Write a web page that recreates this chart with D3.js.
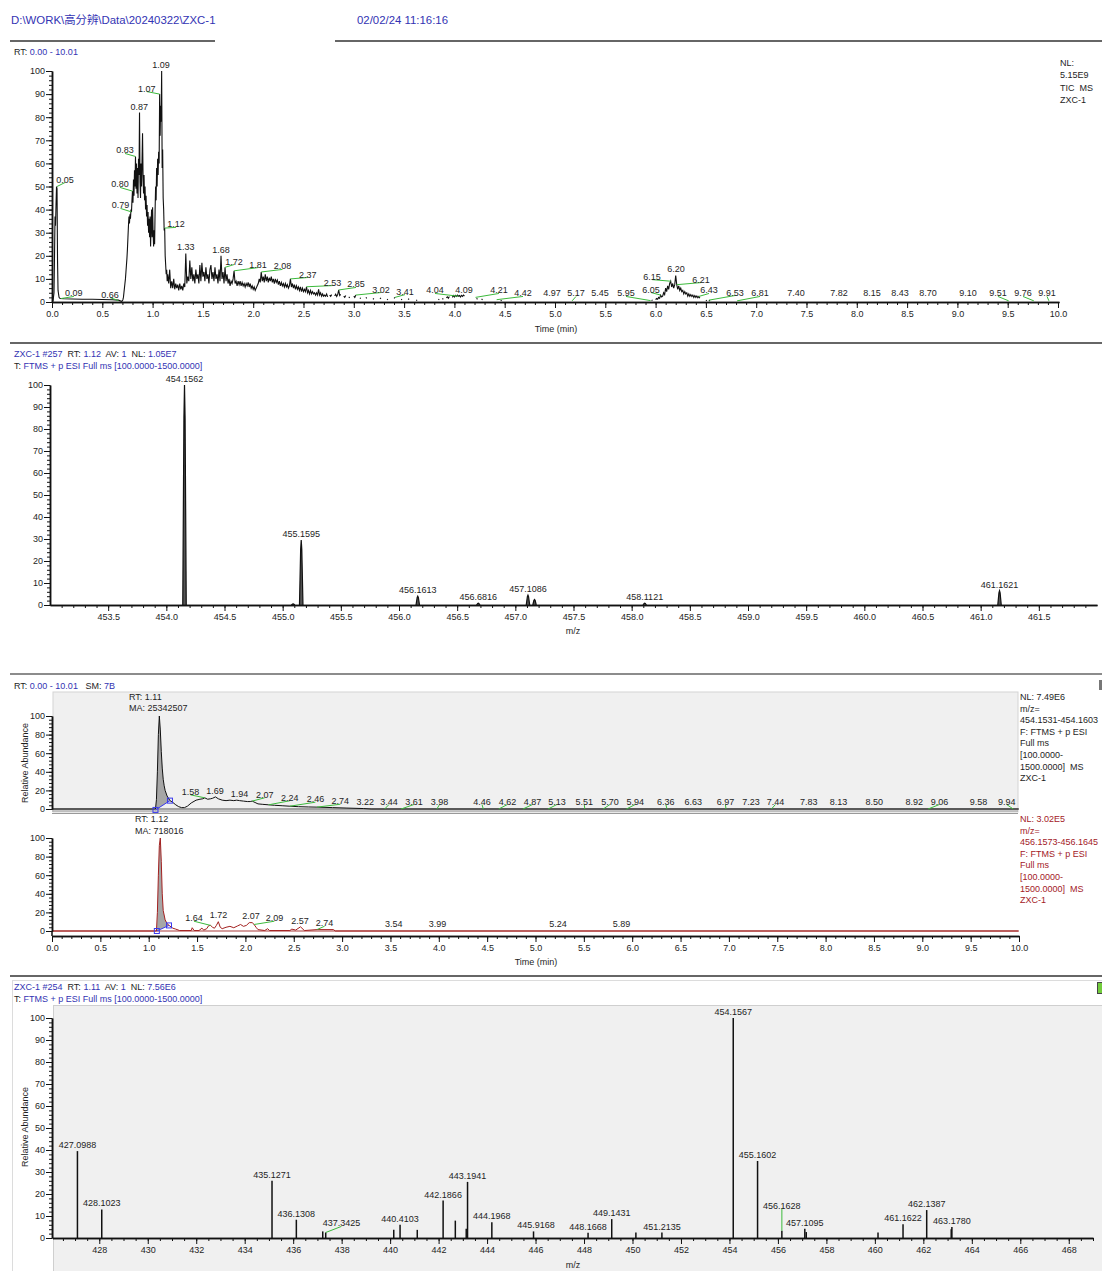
<!DOCTYPE html>
<html lang="en">
<head>
<meta charset="UTF-8">
<title>ZXC-1</title>
<style>
  body { margin: 0; background: #fff; }
  text { white-space: pre; }
</style>
</head>
<body>
<script src="https://cdn.jsdelivr.net/npm/d3@7"></script>
<script>
const FONT = '"Liberation Sans", Arial, "Noto Sans CJK SC", sans-serif';
const BLUE = '#3333b3';
const INK = '#1e1e1e';
const GREEN = '#3cba3c';
const RED = '#a3201f';

// ---------- header ----------
const filePath = 'D:\\WORK\\高分辨\\Data\\20240322\\ZXC-1';
const stamp = '02/02/24 11:16:16';

// ---------- panel 1 : TIC ----------
const ticRange = ['RT:', ' 0.00 - 10.01'];
const ticInfo = ['NL:', '5.15E9', 'TIC  MS', 'ZXC-1'];
const ticTimeTicks = [0, 0.5, 1, 1.5, 2, 2.5, 3, 3.5, 4, 4.5, 5, 5.5, 6, 6.5, 7, 7.5, 8, 8.5, 9, 9.5, 10];
const pct10Ticks = [0, 10, 20, 30, 40, 50, 60, 70, 80, 90, 100];
// [time, relative abundance]; null = gap in the trace
const ticTrace = [
  [0.00, 0], [0.01, 0.5], [0.02, 4], [0.025, 20], [0.03, 37], [0.035, 33], [0.04, 42], [0.045, 50], [0.05, 49],
  [0.055, 18], [0.06, 5], [0.07, 2], [0.08, 1.5], [0.12, 1.4], [0.20, 1.3], [0.30, 1.2], [0.40, 1.2], [0.50, 1.1],
  [0.60, 1.0], [0.66, 0.8], [0.69, 0.3], [0.70, 0.5], [0.705, 1], [0.71, 2], [0.715, 4], [0.72, 6], [0.725, 8],
  [0.73, 10], [0.735, 13], [0.74, 16], [0.745, 19], [0.75, 23], [0.755, 28], [0.76, 33], [0.765, 37], [0.77, 34],
  [0.775, 38], [0.78, 36], [0.785, 40], [0.79, 39], [0.795, 44], [0.80, 48], [0.805, 43], [0.81, 53], [0.815, 46],
  [0.82, 57], [0.825, 50], [0.83, 63], [0.835, 49], [0.84, 60], [0.845, 47], [0.85, 58], [0.855, 45], [0.86, 62],
  [0.865, 55], [0.87, 82], [0.875, 52], [0.88, 45], [0.885, 60], [0.89, 50], [0.895, 61], [0.90, 73], [0.905, 55],
  [0.91, 47], [0.915, 55], [0.92, 44], [0.925, 50], [0.93, 40], [0.935, 46], [0.94, 37], [0.945, 42], [0.95, 33],
  [0.955, 39], [0.96, 30], [0.965, 36], [0.97, 28], [0.975, 37], [0.98, 24], [0.985, 33], [0.99, 40], [0.995, 28],
  [1.00, 41], [1.005, 30], [1.01, 24], [1.015, 31], [1.02, 25], [1.025, 40], [1.03, 50], [1.035, 44], [1.04, 58],
  [1.045, 50], [1.05, 62], [1.055, 55], [1.06, 65], [1.065, 60], [1.07, 90], [1.075, 72], [1.08, 85], [1.085, 78],
  [1.09, 100], [1.095, 58], [1.10, 66], [1.105, 45], [1.11, 40], [1.115, 31], [1.12, 32], [1.125, 20], [1.13, 16],
  [1.135, 12], [1.14, 14], [1.145, 9],
  [1.15, 12], [1.16, 8], [1.17, 14], [1.18, 6], [1.19, 9], [1.20, 6], [1.21, 10], [1.22, 5.5], [1.23, 8], [1.24, 6],
  [1.25, 7.5], [1.26, 5], [1.27, 8], [1.28, 5.5], [1.29, 7], [1.30, 5], [1.31, 8], [1.32, 6.5], [1.33, 21], [1.34, 8],
  [1.35, 11], [1.36, 9], [1.37, 18], [1.38, 10], [1.39, 15], [1.40, 9], [1.41, 12], [1.42, 8], [1.43, 14], [1.44, 10],
  [1.45, 12], [1.46, 8], [1.47, 16], [1.48, 9], [1.49, 17], [1.50, 11], [1.51, 13], [1.52, 9], [1.53, 15], [1.54, 10],
  [1.55, 12], [1.56, 8], [1.57, 14], [1.58, 16], [1.59, 10], [1.60, 13], [1.61, 9], [1.62, 15], [1.63, 10], [1.64, 12],
  [1.65, 8], [1.66, 14], [1.67, 9], [1.68, 20], [1.69, 10], [1.70, 13], [1.71, 8], [1.72, 15], [1.73, 9], [1.74, 12],
  [1.75, 8], [1.76, 10], [1.77, 7], [1.78, 9], [1.79, 8], [1.80, 10], [1.81, 13.5], [1.82, 8], [1.83, 9], [1.84, 7],
  [1.85, 9], [1.86, 7.5], [1.87, 9], [1.88, 7], [1.89, 8.5], [1.90, 7], [1.91, 8], [1.92, 6.5], [1.93, 8], [1.94, 7],
  [1.95, 8.5], [1.96, 6.5], [1.97, 8], [1.98, 6], [1.99, 7], [2.00, 5.5], [2.01, 6.5], [2.02, 5], [2.03, 6], [2.04, 7],
  [2.05, 8], [2.06, 10], [2.07, 8.5], [2.08, 13], [2.09, 9], [2.10, 11], [2.11, 8.5], [2.12, 12], [2.13, 9], [2.14, 11],
  [2.15, 8.5], [2.16, 10.5], [2.17, 9], [2.18, 11], [2.19, 8.5], [2.20, 10], [2.21, 8], [2.22, 10], [2.23, 8.5], [2.24, 9.5],
  [2.25, 7.5], [2.26, 9], [2.27, 7], [2.28, 8.5], [2.29, 7], [2.30, 8], [2.31, 6.5], [2.32, 8], [2.33, 6.5], [2.34, 7.5],
  [2.35, 6], [2.36, 7], [2.37, 10], [2.38, 6.5], [2.39, 8], [2.40, 6], [2.41, 7.5], [2.42, 5.5], [2.43, 7], [2.44, 5.5],
  [2.45, 6.5], [2.46, 5], [2.47, 6.5], [2.48, 4.5], [2.49, 6], [2.50, 4.5], [2.51, 5.5], [2.52, 4.5], [2.53, 6.6], [2.54, 4],
  [2.55, 5], [2.56, 3.5], [2.57, 5], [2.58, 3.5], [2.59, 4.5], [2.60, 3.5], [2.61, 4], [2.62, 3], [2.63, 4], [2.64, 3],
  [2.65, 5.5], [2.66, 3], [2.67, 4], [2.68, 2.5], [2.69, 3.5], [2.70, 2.5], [2.71, 3], [2.72, 2.5], [2.73, 3.5], [2.74, 2.2],
  [2.75, null], [2.76, 3], [2.77, 2.5], [2.78, 3.2], [2.79, null], [2.81, 2.6], [2.82, 3.4], [2.83, 2.4], [2.84, 3.2],
  [2.85, 5.2], [2.86, 2.8], [2.87, 3.3], [2.88, null], [2.90, 2.5], [2.91, 2], [2.92, 2.8], [2.93, null], [2.95, 2.2],
  [2.96, 1.8], [2.97, null], [3.00, 2.5], [3.01, 2], [3.02, 3], [3.03, null], [3.06, 1.8], [3.07, 1.5], [3.08, null],
  [3.12, 2], [3.13, 1.6], [3.14, null], [3.19, 1.5], [3.20, 1.2], [3.21, null], [3.26, 1.8], [3.27, 1.4], [3.28, null],
  [3.33, 1.2], [3.34, 1], [3.35, null], [3.40, 1.6], [3.41, 2], [3.42, null], [3.47, 1.2], [3.48, 1], [3.49, null],
  [3.54, 1.4], [3.55, 1.1], [3.56, null], [3.62, 0.9], [3.63, 0.7], [3.64, null],
  [3.84, 1.2], [3.85, 1], [3.86, null], [3.88, 1.5], [3.89, 1.2], [3.90, null], [3.92, 1.8], [3.93, 2.2], [3.94, 1.6],
  [3.95, 2.4], [3.96, null], [3.98, 2], [3.99, 2.8], [4.00, 2.2], [4.01, 2.9], [4.02, 2.4], [4.03, 3], [4.04, 2.5],
  [4.05, 2.8], [4.06, 2.2], [4.07, 2.9], [4.08, 2.4], [4.09, 3], [4.10, 2.6], [4.11, null],
  [4.22, 1.6], [4.23, 1.2], [4.24, null], [4.27, 1.3], [4.28, 1], [4.29, null], [4.46, 0.8], [4.47, 0.5], [4.48, null],
  [5.96, 0.6], [5.97, 0.9], [5.98, null], [6.00, 1], [6.01, 1.5], [6.02, 1.2], [6.03, 2], [6.04, 1.6], [6.05, 3],
  [6.06, 2.2], [6.07, 2.5], [6.08, 4], [6.09, 3.2], [6.10, 6], [6.11, 4.5], [6.12, 7], [6.13, 5.5], [6.14, 8], [6.15, 9],
  [6.16, 6.5], [6.17, 8], [6.18, 6], [6.19, 7.5], [6.20, 11.5], [6.21, 7.5], [6.22, 5.5], [6.23, 7], [6.24, 5], [6.25, 6],
  [6.26, 4.5], [6.27, 5], [6.28, 3.5], [6.29, 4.5], [6.30, 3.5], [6.31, 4], [6.32, 2.5], [6.33, 3.5], [6.34, 2.5],
  [6.35, 3.2], [6.36, 2.4], [6.37, 3], [6.38, 2], [6.39, 2.8], [6.40, 2], [6.41, 2.6], [6.42, 1.8], [6.43, 2.4],
  [6.44, 1.6], [6.45, null], [6.50, 0.8], [6.51, 0.5], [6.52, null], [6.53, 0.8], [6.54, 0.4], [6.55, null]
];
// [peak time, apex %, label time, label %]
const ticLabels = [
  [0.05, 50, 0.129, 50.4], [0.09, 1.5, 0.217, 1.1], [0.66, 0.6, 0.577, 0.6], [0.79, 39, 0.681, 39.2],
  [0.80, 48, 0.676, 48.3], [0.83, 63, 0.726, 63.0], [0.87, 82, 0.868, 82.0], [1.07, 90, 0.941, 89.8],
  [1.09, 100, 1.083, 100.2], [1.12, 32, 1.233, 31.0], [1.33, 21, 1.329, 21.4], [1.68, 20, 1.680, 19.7],
  [1.72, 15, 1.809, 14.9], [1.81, 13.5, 2.048, 13.6], [2.08, 13, 2.291, 12.8], [2.37, 10, 2.543, 9.3],
  [2.53, 6.6, 2.788, 5.8], [2.85, 5.2, 3.022, 5.0], [3.02, 3, 3.270, 2.8], [3.41, 2, 3.509, 1.9],
  [4.04, 2.5, 3.807, 2.4], [4.09, 3, 4.095, 2.8], [4.21, 2, 4.443, 2.4], [4.42, 1, 4.682, 1.1],
  [4.97, 1, 4.970, 1.1], [5.17, 0.5, 5.209, 1.1], [5.45, 1, 5.447, 1.1], [5.95, 0.6, 5.706, 1.1],
  [6.05, 3, 5.954, 2.8], [6.15, 9, 5.964, 8.4], [6.20, 11.5, 6.203, 11.5], [6.21, 7.5, 6.451, 7.1],
  [6.43, 2.4, 6.531, 2.4], [6.53, 0.8, 6.789, 1.5], [6.81, 0.5, 7.038, 1.1], [7.40, 1, 7.396, 1.1],
  [7.82, 1, 7.823, 1.1], [8.15, 1, 8.151, 1.1], [8.43, 1, 8.429, 1.1], [8.70, 1, 8.708, 1.1],
  [9.10, 1, 9.105, 1.1], [9.51, 0.5, 9.403, 1.1], [9.76, 0.5, 9.652, 1.1], [9.91, 0.5, 9.891, 1.1]
];

// ---------- panel 2 : spectrum #257 ----------
const ms257Title = [['ZXC-1 #257', BLUE], ['  RT: ', INK], ['1.12', BLUE], ['  AV: ', INK], ['1', BLUE], ['  NL: ', INK], ['1.05E7', BLUE]];
const scanFilter = [['T: ', INK], ['FTMS + p ESI Full ms [100.0000-1500.0000]', BLUE]];
const ms257Ticks = [453.5, 454.0, 454.5, 455.0, 455.5, 456.0, 456.5, 457.0, 457.5, 458.0, 458.5, 459.0, 459.5, 460.0, 460.5, 461.0, 461.5];
const ms257Peaks = [
  [454.1562, 100], [455.0900, 0.5], [455.1595, 29.5], [456.1613, 4], [456.6816, 0.8],
  [457.1086, 4.5], [457.1650, 2.5], [458.1121, 0.8], [461.1621, 6.5]
];
const ms257Labels = [
  [454.1562, 100], [455.1595, 29.5], [456.1613, 4], [456.6816, 0.8], [457.1086, 4.5], [458.1121, 0.8], [461.1621, 6.5]
];

// ---------- panel 3 : extracted ion chromatograms ----------
const xicRange = [['RT:', INK], [' 0.00 - 10.01', BLUE], ['   SM: ', INK], ['7B', BLUE]];
const xicTimeTicks = ticTimeTicks;
const pct20Ticks = [0, 20, 40, 60, 80, 100];
const xicTopInfo = ['NL: 7.49E6', 'm/z=', '454.1531-454.1603', 'F: FTMS + p ESI', 'Full ms', '[100.0000-', '1500.0000]  MS', 'ZXC-1'];
const xicBotInfo = ['NL: 3.02E5', 'm/z=', '456.1573-456.1645', 'F: FTMS + p ESI', 'Full ms', '[100.0000-', '1500.0000]  MS', 'ZXC-1'];
const xicTopPeak = ['RT: 1.11', 'MA: 25342507'];
const xicBotPeak = ['RT: 1.12', 'MA: 718016'];
const xicTopTrace = [
  [0, 0], [1.06, 0], [1.07, 0], [1.08, 10], [1.09, 40], [1.10, 80], [1.11, 100], [1.12, 85], [1.13, 62], [1.14, 44],
  [1.15, 32], [1.16, 25], [1.17, 20], [1.19, 14], [1.22, 9], [1.25, 7], [1.28, 4.5], [1.31, 2.5], [1.34, 1.5], [1.37, 1.5],
  [1.40, 3], [1.44, 6.5], [1.49, 9.5], [1.53, 10.5], [1.56, 11], [1.58, 12], [1.61, 10.5], [1.64, 11], [1.66, 11.5],
  [1.69, 13], [1.72, 11], [1.76, 9.5], [1.80, 9], [1.84, 9.5], [1.88, 9], [1.91, 9.5], [1.94, 9], [1.98, 8.5], [2.02, 8],
  [2.05, 8], [2.07, 8.5], [2.10, 7], [2.13, 5.5], [2.18, 5], [2.24, 4.5], [2.30, 4], [2.38, 3.5], [2.46, 3], [2.55, 2.5],
  [2.65, 2.2], [2.74, 2], [2.90, 1.5], [3.05, 1], [3.22, 0.5], [3.30, 0], [10.0, 0]
];
const xicTopMarks = [[1.07, -1], [1.22, 9]];
const xicTopLabels = [
  [1.58, 12, 1.432, 12.0], [1.69, 13, 1.686, 12.7], [1.94, 9, 1.940, 10.2], [2.07, 8.5, 2.199, 8.8],
  [2.24, 4.5, 2.459, 5.6], [2.46, 3, 2.724, 4.1], [2.74, 2, 2.982, 1.9], [3.22, 0.5, 3.240, 1.6],
  [3.44, 0, 3.485, 1.6], [3.61, 0, 3.743, 1.6], [3.98, 0, 4.008, 1.6], [4.46, 0, 4.447, 1.6],
  [4.62, 0, 4.710, 1.6], [4.87, 0, 4.970, 1.6], [5.13, 0, 5.222, 1.6], [5.51, 0, 5.504, 1.6],
  [5.70, 0, 5.770, 1.6], [5.94, 0, 6.031, 1.6], [6.36, 0, 6.348, 1.6], [6.63, 0, 6.632, 1.6],
  [6.97, 0, 6.964, 1.6], [7.23, 0, 7.228, 1.6], [7.44, 0, 7.481, 1.6], [7.83, 0, 7.827, 1.6],
  [8.13, 0, 8.133, 1.6], [8.50, 0, 8.503, 1.6], [8.92, 0, 8.918, 1.6], [9.06, 0, 9.177, 1.6],
  [9.58, 0, 9.581, 1.6], [9.94, 0, 9.873, 1.6]
];
const xicBotTrace = [
  [0, 0], [1.08, 0], [1.09, 20], [1.10, 60], [1.11, 92], [1.12, 100], [1.13, 75], [1.14, 40], [1.15, 22], [1.17, 12],
  [1.19, 8], [1.21, 6], [1.25, 3], [1.28, 2], [1.32, 0.5], [1.44, 0.5], [1.45, 3.5], [1.47, 0.5], [1.52, 0.5], [1.55, 3],
  [1.57, 1], [1.60, 2.5], [1.62, 5.7], [1.64, 6], [1.66, 4], [1.68, 3], [1.70, 6], [1.72, 10], [1.74, 4], [1.76, 2.5],
  [1.80, 4], [1.84, 5], [1.88, 3.5], [1.92, 5.5], [1.95, 7], [1.98, 5], [2.01, 6], [2.04, 9], [2.07, 9], [2.09, 7],
  [2.11, 4], [2.13, 1.5], [2.20, 0.5], [2.23, 2.5], [2.25, 0.5], [2.46, 0.5], [2.48, 2], [2.52, 1], [2.57, 4.5],
  [2.61, 0.5], [2.74, 1.5], [2.91, 1.5], [2.93, 0], [10.0, 0]
];
const xicBotMarks = [[1.084, 0], [1.21, 6]];
const xicBotLabels = [
  [1.64, 6, 1.468, 7.3], [1.72, 10, 1.723, 11.0], [2.07, 9, 2.057, 10.2], [2.09, 7, 2.300, 7.3],
  [2.57, 4.5, 2.565, 3.8], [2.74, 1.5, 2.819, 1.9], [3.54, 0, 3.534, 0.9], [3.99, 0, 3.987, 0.9],
  [5.24, 0, 5.233, 0.9], [5.89, 0, 5.889, 0.9]
];

// ---------- panel 4 : spectrum #254 ----------
const ms254Title = [['ZXC-1 #254', BLUE], ['  RT: ', INK], ['1.11', BLUE], ['  AV: ', INK], ['1', BLUE], ['  NL: ', INK], ['7.56E6', BLUE]];
const ms254Ticks = [428, 430, 432, 434, 436, 438, 440, 442, 444, 446, 448, 450, 452, 454, 456, 458, 460, 462, 464, 466, 468];
const ms254Peaks = [
  [427.0988, 39.5], [428.1023, 13], [435.1271, 26], [436.1308, 8.3], [437.2200, 3], [437.3425, 2.5],
  [440.1500, 3.7], [440.4103, 6], [441.1200, 3.7], [442.1866, 17], [442.6900, 7.9], [443.1400, 4.2],
  [443.1941, 25.5], [444.1968, 7.2], [445.9168, 3], [448.1668, 2.4], [449.1431, 8.6], [450.1400, 2.5],
  [451.2135, 2.5], [454.1567, 100], [455.1602, 35], [456.1628, 3.3], [457.1095, 4.2], [457.1700, 2.7],
  [460.1300, 2.5], [461.1622, 6.3], [462.1387, 12.7], [463.1500, 4], [463.1780, 5]
];
const ms254Labels = [
  [427.0988, 39.5], [428.1023, 13], [435.1271, 26], [436.1308, 8.3], [437.3425, 2.5, 437.99, 3.9],
  [440.4103, 6], [442.1866, 17], [443.1941, 25.5], [444.1968, 7.2], [445.9168, 3, 446.02, 3.2],
  [448.1668, 2.4], [449.1431, 8.6], [451.2135, 2.5], [454.1567, 100], [455.1602, 35],
  [456.1628, 3.3, 456.1628, 12], [457.1095, 4.2], [461.1622, 6.3], [462.1387, 12.7], [463.1780, 5]
];

// ---------- helpers ----------
const svg = d3.select('body').append('svg')
  .attr('width', 1102).attr('height', 1271)
  .style('display', 'block')
  .attr('font-family', FONT);

function text(x, y, s, size = 9, fill = INK) {
  return svg.append('text').attr('x', x).attr('y', y).attr('font-size', size).attr('fill', fill).text(s);
}

function mixed(x, y, parts) {
  const t = svg.append('text').attr('x', x).attr('y', y).attr('font-size', 9);
  parts.forEach(([s, c]) => t.append('tspan').attr('fill', c).text(s));
}

function hline(x1, x2, y, color, w = 1) {
  svg.append('line').attr('x1', x1).attr('x2', x2).attr('y1', y).attr('y2', y).attr('stroke', color).attr('stroke-width', w);
}

function tidy(a) {
  a.selectAll('g').attr('font-family', FONT).attr('font-size', 9);
  a.selectAll('.domain').attr('stroke', '#111').attr('stroke-width', 1.5);
  a.selectAll('.tick line').attr('stroke', '#111');
  a.selectAll('.tick text').attr('fill', INK);
}

function axisX(x, y0, majors, minors, fmt) {
  const a = svg.append('g').attr('transform', `translate(0,${y0})`);
  a.append('g').call(d3.axisBottom(x).tickValues(minors).tickSize(3).tickFormat('').tickSizeOuter(0));
  a.append('g').call(d3.axisBottom(x).tickValues(majors).tickSize(6).tickPadding(3).tickFormat(fmt).tickSizeOuter(0));
  tidy(a);
}

function axisY(y, x0, majors, minors) {
  const a = svg.append('g').attr('transform', `translate(${x0},0)`);
  a.append('g').call(d3.axisLeft(y).tickValues(minors).tickSize(3).tickFormat('').tickSizeOuter(0));
  a.append('g').call(d3.axisLeft(y).tickValues(majors).tickSize(6).tickPadding(1).tickFormat(d3.format('d')).tickSizeOuter(0));
  tidy(a);
}

function peakLabels(x, y, rows, fmt) {
  const g = svg.append('g');
  rows.forEach(r => {
    const [px, py] = r;
    const lx = r.length > 2 ? r[2] : px;
    const ly = r.length > 2 ? r[3] : py;
    const ax = x(px), ay = y(py), bx = x(lx), by = y(ly) - 3;
    if (Math.hypot(bx - ax, by - ay) > 4.5) {
      g.append('line').attr('x1', ax).attr('y1', ay).attr('x2', bx).attr('y2', by)
        .attr('stroke', GREEN).attr('stroke-width', 1);
    }
    g.append('text').attr('x', bx).attr('y', by).attr('text-anchor', 'middle')
      .attr('font-size', 9).attr('fill', INK).text(fmt(px));
  });
}

function ylabel(x, y) {
  svg.append('text').attr('transform', `translate(${x},${y}) rotate(-90)`)
    .attr('text-anchor', 'middle').attr('font-size', 9).attr('fill', INK).text('Relative Abundance');
}

const f1 = d3.format('.1f'), f2 = d3.format('.2f'), f4 = d3.format('.4f');

// ---------- header ----------
text(11, 24, filePath, 11.4, BLUE);
text(357, 24, stamp, 11.4, BLUE);
hline(10, 215, 41, '#333', 1.3);
hline(335, 1102, 41, '#333', 1.3);

// ---------- panel 1 ----------
const x1 = d3.scaleLinear().domain([0, 10.01]).range([52, 1059]);
const y1 = d3.scaleLinear().domain([0, 100]).range([302, 71]);
mixed(14, 55, [[ticRange[0], INK], [ticRange[1], BLUE]]);
ticInfo.forEach((s, i) => text(1060, 66 + i * 12.4, s));

svg.append('path')
  .attr('d', d3.line().defined(d => d[1] !== null).x(d => x1(d[0])).y(d => y1(d[1]))(ticTrace))
  .attr('fill', 'none').attr('stroke', '#111').attr('stroke-width', 1.1);
axisY(y1, 52, pct10Ticks, d3.range(0, 101, 2));
axisX(x1, 302, ticTimeTicks, d3.range(0, 10.05, 0.1), f1);
peakLabels(x1, y1, ticLabels, f2);
text(556, 332, 'Time (min)').attr('text-anchor', 'middle');

hline(10, 1102, 343, '#333', 1.3);

// ---------- panel 2 ----------
const x2 = d3.scaleLinear().domain([453.0, 462.0]).range([50, 1097]);
const y2 = d3.scaleLinear().domain([0, 100]).range([605, 385]);
mixed(14, 357, ms257Title);
mixed(14, 369, scanFilter);
const peakShape = d3.line().x(d => x2(d[0])).y(d => y2(d[1]));
ms257Peaks.forEach(([m, v]) => {
  svg.append('path')
    .attr('d', peakShape([[m - 0.015, 0], [m - 0.005, v * 0.85], [m, v], [m + 0.005, v * 0.85], [m + 0.015, 0]]))
    .attr('fill', '#555').attr('stroke', '#111').attr('stroke-width', 1.2);
});
axisY(y2, 50, pct10Ticks, d3.range(0, 101, 2));
axisX(x2, 605, ms257Ticks, d3.range(453.1, 462.0, 0.1), f1);
peakLabels(x2, y2, ms257Labels, f4);
text(573, 634, 'm/z').attr('text-anchor', 'middle');

hline(10, 1102, 674, '#666', 1.3);

// ---------- panel 3 ----------
const x3 = d3.scaleLinear().domain([0, 10]).range([52, 1019]);
const yT = d3.scaleLinear().domain([0, 100]).range([809, 716]);
const yB = d3.scaleLinear().domain([0, 100]).range([931, 838]);
mixed(14, 689, xicRange);
svg.append('rect').attr('x', 53).attr('y', 692).attr('width', 965).attr('height', 120)
  .attr('fill', '#f0f0f0').attr('stroke', '#d4d4d4');
svg.append('rect').attr('x', 1099).attr('y', 680).attr('width', 3).attr('height', 10).attr('fill', '#777');
hline(52, 1018, 811, '#999', 1);
hline(52, 1018, 813.5, '#999', 1);
hline(52, 1018, yT(0), '#8a8a8a', 1.6);
hline(52, 1018, yB(0), '#d49c9c', 2);

function integrated(trace, marks, y, color) {
  const [s, e] = marks;
  const inside = trace.filter(d => d[0] > s[0] && d[0] < e[0]);
  const poly = [s, ...inside, e];
  svg.append('path').attr('d', d3.line().x(d => x3(d[0])).y(d => y(d[1]))(poly) + 'Z')
    .attr('fill', '#a6a6a6').attr('stroke', 'none');
  svg.append('path').attr('d', d3.line().x(d => x3(d[0])).y(d => y(d[1]))(trace))
    .attr('fill', 'none').attr('stroke', color).attr('stroke-width', 1);
  svg.append('line').attr('x1', x3(s[0])).attr('y1', y(s[1])).attr('x2', x3(e[0])).attr('y2', y(e[1]))
    .attr('stroke', '#3a3aee').attr('stroke-width', 1);
  marks.forEach(m => svg.append('rect').attr('x', x3(m[0]) - 2.5).attr('y', y(m[1]) - 2.5)
    .attr('width', 5).attr('height', 5).attr('fill', 'none').attr('stroke', '#3a3aee'));
}
integrated(xicTopTrace, xicTopMarks, yT, '#111');
integrated(xicBotTrace, xicBotMarks, yB, RED);

axisY(yT, 52, pct20Ticks, d3.range(0, 101, 4));
axisY(yB, 52, pct20Ticks, d3.range(0, 101, 4));
svg.append('line').attr('x1', 52).attr('x2', 52).attr('y1', 931).attr('y2', 936).attr('stroke', '#111').attr('stroke-width', 1.5);
axisX(x3, 936, xicTimeTicks, d3.range(0, 10.05, 0.1), f1);
peakLabels(x3, yT, xicTopLabels, f2);
peakLabels(x3, yB, xicBotLabels, f2);
text(129, 700, xicTopPeak[0]); text(129, 711, xicTopPeak[1]);
text(135, 822, xicBotPeak[0]); text(135, 834, xicBotPeak[1]);
xicTopInfo.forEach((s, i) => text(1020, 700 + i * 11.6, s));
xicBotInfo.forEach((s, i) => text(1020, 822 + i * 11.6, s, 9, RED));
ylabel(28, 763);
text(536, 965, 'Time (min)').attr('text-anchor', 'middle');

hline(10, 1102, 976, '#333', 1.3);

// ---------- panel 4 ----------
const x4 = d3.scaleLinear().domain([426.07, 469.0]).range([52.5, 1093]);
const y4 = d3.scaleLinear().domain([0, 100]).range([1238, 1018]);
hline(12, 1102, 980.5, '#dcdcdc', 1);
svg.append('line').attr('x1', 12.5).attr('x2', 12.5).attr('y1', 980).attr('y2', 1271).attr('stroke', '#dcdcdc');
svg.append('rect').attr('x', 53.5).attr('y', 1005.5).attr('width', 1050).attr('height', 270)
  .attr('fill', '#f0f0f0').attr('stroke', '#cfcfcf');
svg.append('rect').attr('x', 1097.5).attr('y', 982.5).attr('width', 6).attr('height', 11)
  .attr('fill', '#72cc3c').attr('stroke', '#444');
mixed(14, 990, ms254Title);
mixed(14, 1002, scanFilter);
svg.append('g').selectAll('line').data(ms254Peaks).join('line')
  .attr('x1', d => x4(d[0])).attr('x2', d => x4(d[0]))
  .attr('y1', y4(0)).attr('y2', d => y4(d[1]))
  .attr('stroke', '#111').attr('stroke-width', 1.5);
axisY(y4, 52, pct10Ticks, d3.range(0, 101, 2));
axisX(x4, 1238, ms254Ticks, d3.range(426.5, 469.01, 0.5), d3.format('d'));
peakLabels(x4, y4, ms254Labels, f4);
ylabel(28, 1127);
text(573, 1268, 'm/z').attr('text-anchor', 'middle');
</script>
</body>
</html>
